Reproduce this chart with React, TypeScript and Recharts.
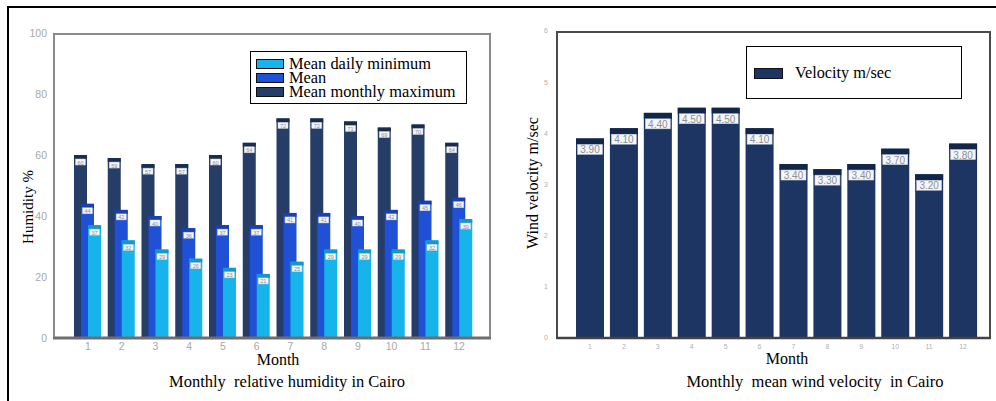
import { Bar, BarChart, Legend, XAxis, YAxis } from "recharts";

const months = ["1", "2", "3", "4", "5", "6", "7", "8", "9", "10", "11", "12"];
const humidityMin = [37, 32, 29, 26, 23, 21, 25, 29, 29, 29, 32, 39];
const humidityMean = [44, 42, 40, 36, 37, 37, 41, 41, 40, 42, 45, 46];
const humidityMax = [60, 59, 57, 57, 60, 64, 72, 72, 71, 69, 70, 64];
const humidityTicks = [0, 20, 40, 60, 80, 100];
const humidityLegendOrder = ["Mean daily minimum", "Mean", "Mean monthly maximum"];
const windVelocity = [3.9, 4.1, 4.4, 4.5, 4.5, 4.1, 3.4, 3.3, 3.4, 3.7, 3.2, 3.8];
const windTicks = [0, 1, 2, 3, 4, 5, 6];

const humidityData = months.map((m, i) => ({
  month: m,
  min: humidityMin[i],
  mean: humidityMean[i],
  max: humidityMax[i],
}));
const windData = months.map((m, i) => ({ month: m, velocity: windVelocity[i] }));

const SERIF = "'Liberation Serif', 'Times New Roman', serif";
const SANS = "'Liberation Sans', Arial, sans-serif";

// bar with a darker cap and a small white value box under it
function cappedBar(key: string, cap: string, capH: number, boxH: number, fontSize: number, fmt: (v: number) => string) {
  return (props: any) => {
    const { x, y, width, height, fill, payload } = props;
    if (!height || height <= 0) return <g />;
    const v = payload[key];
    return (
      <g>
        <rect x={x} y={y} width={width} height={height} fill={fill} />
        <rect x={x} y={y} width={width} height={capH} fill={cap} />
        <rect x={x + 1.5} y={y + capH} width={width - 3} height={boxH} fill="#f4f6f8" stroke="#c8ccd4" strokeWidth={0.5} />
        <text
          x={x + width / 2}
          y={y + capH + boxH / 2 + 0.5}
          textAnchor="middle"
          dominantBaseline="central"
          fontSize={fontSize}
          fontFamily={SANS}
          fill="#8a8f99"
        >
          {fmt(v)}
        </text>
      </g>
    );
  };
}

function HumidityLegend(props: any) {
  const items = [...(props.payload || [])].sort(
    (a: any, b: any) => humidityLegendOrder.indexOf(a.value) - humidityLegendOrder.indexOf(b.value)
  );
  return (
    <div
      style={{
        position: "relative",
        width: 217,
        height: 53,
        border: "1.5px solid #000",
        background: "#fff",
        boxSizing: "border-box",
      }}
    >
      {items.map((it: any, i: number) => (
        <div key={it.value} style={{ position: "absolute", left: 5, top: 4.5 + i * 14.2, height: 14, display: "flex", alignItems: "center" }}>
          <span style={{ width: 28, height: 10, background: it.color, border: "1px solid #111", boxSizing: "border-box", marginRight: 5 }} />
          <span style={{ fontFamily: SERIF, fontSize: 16.4, lineHeight: "14px", color: "#000", whiteSpace: "nowrap" }}>{it.value}</span>
        </div>
      ))}
    </div>
  );
}

function WindLegend(props: any) {
  const items = props.payload || [];
  return (
    <div
      style={{
        position: "relative",
        width: 216,
        height: 53,
        border: "1.5px solid #000",
        background: "#fff",
        boxSizing: "border-box",
      }}
    >
      {items.map((it: any) => (
        <div key={it.value} style={{ position: "absolute", left: 7, top: 18, height: 16, display: "flex", alignItems: "center" }}>
          <span style={{ width: 29, height: 11, background: it.color, border: "1px solid #111", boxSizing: "border-box", marginRight: 12 }} />
          <span style={{ fontFamily: SERIF, fontSize: 16.3, color: "#000", whiteSpace: "nowrap" }}>{it.value}</span>
        </div>
      ))}
    </div>
  );
}

export default function App() {
  return (
    <div style={{ position: "absolute", left: 0, top: 0, width: 996, height: 401, background: "#fff", overflow: "hidden" }}>
      {/* outer page frame */}
      <div style={{ position: "absolute", left: 7, top: 6, width: 1000, height: 400, borderTop: "2.5px solid #000", borderLeft: "2.5px solid #000" }} />

      {/* humidity chart */}
      <div style={{ position: "absolute", left: 53, top: 33, width: 438, height: 305, border: "2px solid #8a8a8a", borderBottom: "none", boxSizing: "border-box" }} />
      <div style={{ position: "absolute", left: 0, top: 0 }}>
        <BarChart width={500} height={401} data={humidityData} margin={{ top: 33, right: 9, bottom: 33, left: 13 }} barSize={13} barGap={-6}>
          <XAxis
            dataKey="month"
            padding={{ left: 18, right: 15 }}
            tickLine={false}
            tickSize={0}
            tickMargin={5}
            axisLine={{ stroke: "#6e6e6e", strokeWidth: 3 }}
            tick={{ fill: "#a8a8a8", fontSize: 10.5, fontFamily: SANS }}
            height={30}
          />
          <YAxis
            domain={[0, 100]}
            ticks={humidityTicks}
            width={40}
            tickLine={false}
            tickSize={0}
            tickMargin={6}
            axisLine={false}
            tick={{ fill: "#a8a8a8", fontSize: 10.5, fontFamily: SANS }}
          />
          <Legend
            content={HumidityLegend}
            verticalAlign="middle"
            align="center"
            layout="horizontal"
            wrapperStyle={{ left: 250, top: 51, width: 217, height: 53 }}
          />
          <Bar dataKey="max" name="Mean monthly maximum" fill="#263d68" isAnimationActive={false} shape={cappedBar("max", "#1a2c4e", 4, 6, 5.5, (v) => String(v))} />
          <Bar dataKey="mean" name="Mean" fill="#1f50d6" isAnimationActive={false} shape={cappedBar("mean", "#1a3fb0", 4, 6, 5.5, (v) => String(v))} />
          <Bar dataKey="min" name="Mean daily minimum" fill="#17b4ec" isAnimationActive={false} shape={cappedBar("min", "#1298cc", 4, 6, 5.5, (v) => String(v))} />
        </BarChart>
      </div>

      {/* wind chart */}
      <div style={{ position: "absolute", left: 556, top: 31, width: 435, height: 307, border: "2px solid #4a4a4a", borderBottom: "none", boxSizing: "border-box" }} />
      <div style={{ position: "absolute", left: 500, top: 0 }}>
        <BarChart width={496} height={401} data={windData} margin={{ top: 31, right: 5, bottom: 33, left: 16 }} barSize={28}>
          <XAxis
            dataKey="month"
            padding={{ left: 17, right: 11 }}
            tickLine={false}
            tickSize={0}
            tickMargin={6}
            axisLine={{ stroke: "#444", strokeWidth: 2.5 }}
            tick={{ fill: "#b0b0b0", fontSize: 7, fontFamily: SANS }}
            height={30}
          />
          <YAxis
            domain={[0, 6]}
            ticks={windTicks}
            width={40}
            tickLine={false}
            tickSize={0}
            tickMargin={8}
            axisLine={false}
            tick={{ fill: "#b0b0b0", fontSize: 7, fontFamily: SANS }}
          />
          <Legend
            content={WindLegend}
            verticalAlign="middle"
            align="center"
            layout="horizontal"
            wrapperStyle={{ left: 246, top: 46, width: 216, height: 53 }}
          />
          <Bar dataKey="velocity" name="Velocity m/sec" fill="#1c3562" isAnimationActive={false} shape={cappedBar("velocity", "#12264a", 6, 10, 10, (v) => v.toFixed(2))} />
        </BarChart>
      </div>

      {/* titles */}
      <svg width={996} height={401} style={{ position: "absolute", left: 0, top: 0, pointerEvents: "none" }}>
        <text x={28} y={207} transform="rotate(-90 28 207)" textAnchor="middle" dominantBaseline="central" fontFamily={SERIF} fontSize={15} fill="#000">
          Humidity %
        </text>
        <text x={278} y={359} textAnchor="middle" dominantBaseline="central" fontFamily={SERIF} fontSize={16} fill="#000">
          Month
        </text>
        <text x={287} y={381} textAnchor="middle" dominantBaseline="central" fontFamily={SERIF} fontSize={16.5} fill="#000" style={{ whiteSpace: "pre" }}>
          {"Monthly  relative humidity in Cairo"}
        </text>
        <text x={532} y={183} transform="rotate(-90 532 183)" textAnchor="middle" dominantBaseline="central" fontFamily={SERIF} fontSize={16} fill="#000">
          Wind velocity m/sec
        </text>
        <text x={787} y={358} textAnchor="middle" dominantBaseline="central" fontFamily={SERIF} fontSize={16} fill="#000">
          Month
        </text>
        <text x={815} y={381} textAnchor="middle" dominantBaseline="central" fontFamily={SERIF} fontSize={16.5} fill="#000" style={{ whiteSpace: "pre" }}>
          {"Monthly  mean wind velocity  in Cairo"}
        </text>
      </svg>
    </div>
  );
}
